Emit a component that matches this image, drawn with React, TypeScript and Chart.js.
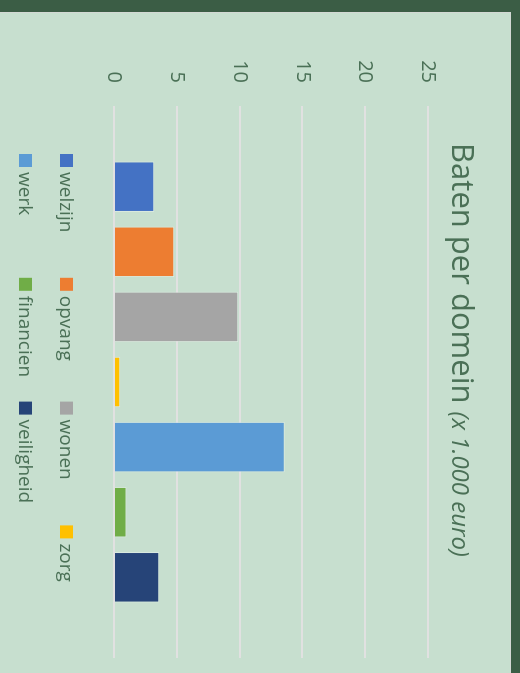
import React, { useEffect, useRef } from "react";
import { Chart, registerables } from "chart.js";

Chart.register(...registerables);

// ---- data ----
const categories = ["Baten"];
const seriesNames = ["welzijn", "opvang", "wonen", "zorg", "werk", "financien", "veiligheid"];
const seriesValues = [3.2, 4.8, 9.9, 0.5, 13.6, 1.0, 3.6];
const seriesColors = ["#4472C4", "#ED7D31", "#A5A5A5", "#FFC000", "#5B9BD5", "#70AD47", "#264478"];
const valueMin = 0;
const valueMax = 25;
const valueStep = 5;
const titleMain = "Baten per domein";
const titleSub = "(x 1.000 euro)";

// ---- look ----
const W = 661; // unrotated width
const H = 511; // unrotated height
const FONT = "'Open Sans', 'DejaVu Sans', sans-serif";
const TEXT = "#4a7056";
const PANEL = "#c7dfcf";
const OUTER = "#3b5d45";

const splitTitle = {
  id: "splitTitle",
  afterDraw(chart: any, _args: any, o: any) {
    const ctx = chart.ctx;
    ctx.save();
    ctx.textBaseline = "alphabetic";
    ctx.textAlign = "left";
    ctx.fillStyle = o.color;
    ctx.font = `${o.mainSize}px ${o.family}`;
    const w1 = ctx.measureText(o.main + " ").width;
    ctx.font = `italic ${o.subSize}px ${o.family}`;
    const w2 = ctx.measureText(o.sub).width;
    const x0 = o.centerX - (w1 + w2) / 2;
    ctx.font = `${o.mainSize}px ${o.family}`;
    ctx.fillText(o.main + " ", x0, o.baseline);
    ctx.font = `italic ${o.subSize}px ${o.family}`;
    ctx.fillText(o.sub, x0 + w1, o.baseline);
    ctx.restore();
  },
};

const columnLegend = {
  id: "columnLegend",
  afterDraw(chart: any, _args: any, o: any) {
    const ctx = chart.ctx;
    ctx.save();
    ctx.font = `${o.fontSize}px ${o.family}`;
    ctx.textBaseline = "alphabetic";
    ctx.textAlign = "left";
    chart.data.datasets.forEach((ds: any, i: number) => {
      const col = i % o.columns;
      const row = Math.floor(i / o.columns);
      const x = o.left + col * o.columnWidth;
      const base = o.baseline + row * o.rowHeight;
      ctx.fillStyle = ds.backgroundColor;
      ctx.fillRect(x, base - o.box, o.box, o.box);
      ctx.fillStyle = o.color;
      ctx.fillText(ds.label, x + o.box + o.gap, base);
    });
    ctx.restore();
  },
};

export default function App() {
  const canvasRef = useRef<HTMLCanvasElement | null>(null);

  useEffect(() => {
    const canvas = canvasRef.current;
    if (!canvas) return;
    const chart = new Chart(canvas, {
      type: "bar",
      data: {
        labels: categories,
        datasets: seriesNames.map((name, i) => ({
          label: name,
          data: [seriesValues[i]],
          backgroundColor: seriesColors[i],
          borderColor: "rgba(255,255,255,0.35)",
          borderWidth: 1,
          categoryPercentage: 0.8255,
          barPercentage: 0.776,
        })),
      },
      options: {
        responsive: false,
        animation: false,
        layout: { padding: { left: 40, right: 15, top: 83, bottom: 114 } },
        scales: {
          x: { display: false, grid: { display: false } },
          y: {
            min: valueMin,
            max: valueMax,
            afterFit: (scale: any) => {
              scale.width = 54;
            },
            ticks: {
              stepSize: valueStep,
              padding: 23,
              color: TEXT,
              font: { family: FONT, size: 20 },
            },
            grid: { color: "#e1e1e1", lineWidth: 2, drawTicks: false },
            border: { display: false },
          },
        },
        plugins: {
          legend: { display: false },
          title: { display: false },
          tooltip: { enabled: false },
          splitTitle: {
            main: titleMain,
            sub: titleSub,
            mainSize: 31,
            subSize: 24,
            family: FONT,
            color: TEXT,
            centerX: 338,
            baseline: 59,
          },
          columnLegend: {
            left: 142,
            columnWidth: 123.8,
            columns: 4,
            baseline: 451,
            rowHeight: 41,
            box: 13,
            gap: 5,
            fontSize: 19,
            family: FONT,
            color: TEXT,
          },
        } as any,
      },
      plugins: [splitTitle, columnLegend],
    });
    return () => chart.destroy();
  }, []);

  return (
    <div style={{ position: "fixed", inset: 0, background: OUTER, overflow: "hidden" }}>
      <div
        style={{
          position: "absolute",
          left: 511,
          top: 12,
          width: W,
          height: H,
          transformOrigin: "0 0",
          transform: "rotate(90deg)",
          background: PANEL,
          boxShadow: "inset 1px 1px 0 #d3d8d4",
        }}
      >
        <canvas ref={canvasRef} width={W} height={H} style={{ display: "block" }} />
      </div>
    </div>
  );
}
